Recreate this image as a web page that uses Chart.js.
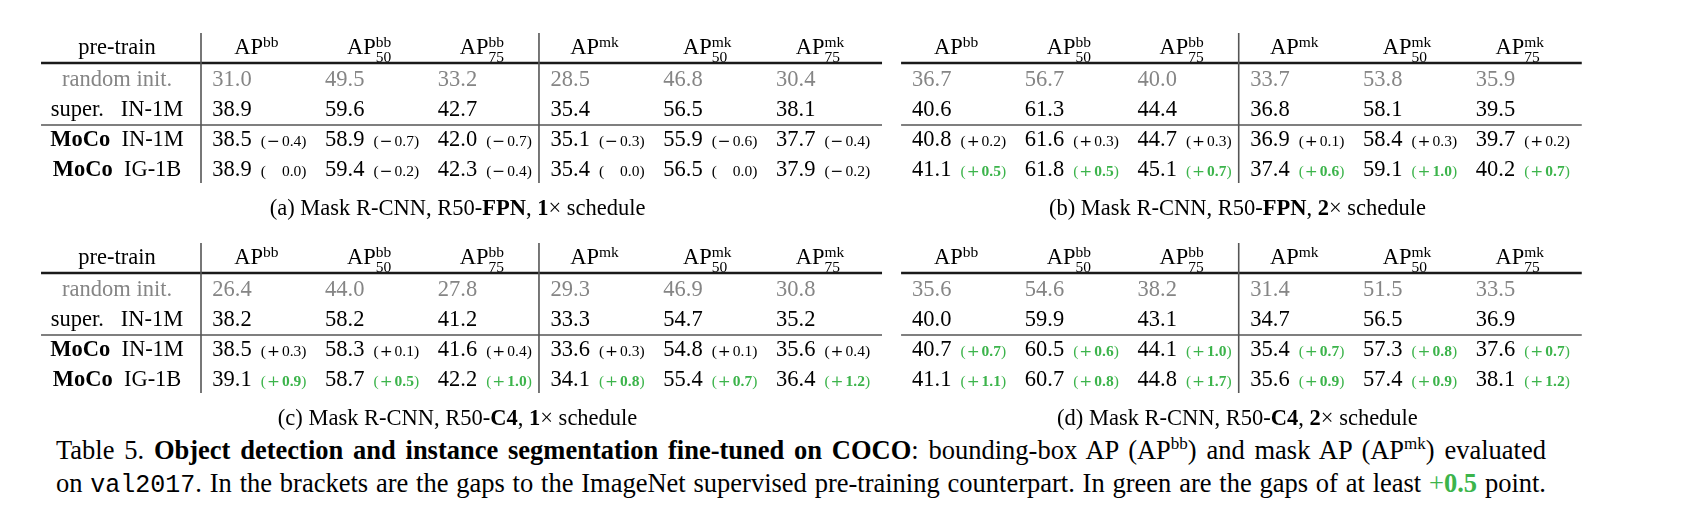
<!DOCTYPE html>
<html>
<head>
<meta charset="utf-8">
<title>Table 5</title>
<script src="https://cdn.jsdelivr.net/npm/chart.js@4.4.1/dist/chart.umd.min.js"></script>
<style>
  body { margin: 0; background: #fff; width: 1691px; height: 516px; overflow: hidden; position: relative; }
  #table5 { position: absolute; left: 0; top: 0; }
  .cap { position: absolute; left: 56px; font: 26.5px "Liberation Serif", "Times New Roman", serif; color: #000; white-space: nowrap; line-height: 30px; }
  .cap sup { font-size: 17px; line-height: 0; vertical-align: 10px; }
  .cap code { font-family: "Liberation Mono", monospace; font-size: 25px; }
  .green { color: #3cb44b; }
</style>
</head>
<body>
<canvas id="table5" width="1691" height="430"></canvas>
<div class="cap" id="line1" style="top:435px">Table 5. <b>Object detection and instance segmentation fine-tuned on COCO</b>: bounding-box AP (AP<sup>bb</sup>) and mask AP (AP<sup>mk</sup>) evaluated</div>
<div class="cap" id="line2" style="top:468px">on <code>val2017</code>. In the brackets are the gaps to the ImageNet supervised pre-training counterpart. In green are the gaps of at least <span class="green">+<b>0.5</b></span> point.</div>
<script>
// column headers: [superscript, subscript]
const headers = [['bb', ''], ['bb', '50'], ['bb', '75'], ['mk', ''], ['mk', '50'], ['mk', '75']];
// pre-train rows: [first part, second part, first part bold]
const preTrain = [['random init.', '', false], ['super.', 'IN-1M', false], ['MoCo', 'IN-1M', true], ['MoCo', 'IG-1B', true]];

// (a) Mask R-CNN, R50-FPN, 1x
const fpn1xAP = [
    [31.0, 49.5, 33.2, 28.5, 46.8, 30.4],
    [38.9, 59.6, 42.7, 35.4, 56.5, 38.1],
    [38.5, 58.9, 42.0, 35.1, 55.9, 37.7],
    [38.9, 59.4, 42.3, 35.4, 56.5, 37.9]
];
const fpn1xGap = [null, null,
    [-0.4, -0.7, -0.7, -0.3, -0.6, -0.4],
    [0.0, -0.2, -0.4, 0.0, 0.0, -0.2]
];

// (b) Mask R-CNN, R50-FPN, 2x
const fpn2xAP = [
    [36.7, 56.7, 40.0, 33.7, 53.8, 35.9],
    [40.6, 61.3, 44.4, 36.8, 58.1, 39.5],
    [40.8, 61.6, 44.7, 36.9, 58.4, 39.7],
    [41.1, 61.8, 45.1, 37.4, 59.1, 40.2]
];
const fpn2xGap = [null, null,
    [0.2, 0.3, 0.3, 0.1, 0.3, 0.2],
    [0.5, 0.5, 0.7, 0.6, 1.0, 0.7]
];

// (c) Mask R-CNN, R50-C4, 1x
const c41xAP = [
    [26.4, 44.0, 27.8, 29.3, 46.9, 30.8],
    [38.2, 58.2, 41.2, 33.3, 54.7, 35.2],
    [38.5, 58.3, 41.6, 33.6, 54.8, 35.6],
    [39.1, 58.7, 42.2, 34.1, 55.4, 36.4]
];
const c41xGap = [null, null,
    [0.3, 0.1, 0.4, 0.3, 0.1, 0.4],
    [0.9, 0.5, 1.0, 0.8, 0.7, 1.2]
];

// (d) Mask R-CNN, R50-C4, 2x
const c42xAP = [
    [35.6, 54.6, 38.2, 31.4, 51.5, 33.5],
    [40.0, 59.9, 43.1, 34.7, 56.5, 36.9],
    [40.7, 60.5, 44.1, 35.4, 57.3, 37.6],
    [41.1, 60.7, 44.8, 35.6, 57.4, 38.1]
];
const c42xGap = [null, null,
    [0.7, 0.6, 1.0, 0.7, 0.8, 0.7],
    [1.1, 0.8, 1.7, 0.9, 0.9, 1.2]
];

const greenFrom = 0.5;

const tables = [
    { ap: fpn1xAP, gap: fpn1xGap, side: 0, block: 0, caption: [['(a) Mask R-CNN, R50-', false], ['FPN', true], [', ', false], ['1', true], ['\u00d7 schedule', false]] },
    { ap: fpn2xAP, gap: fpn2xGap, side: 1, block: 0, caption: [['(b) Mask R-CNN, R50-', false], ['FPN', true], [', ', false], ['2', true], ['\u00d7 schedule', false]] },
    { ap: c41xAP, gap: c41xGap, side: 0, block: 1, caption: [['(c) Mask R-CNN, R50-', false], ['C4', true], [', ', false], ['1', true], ['\u00d7 schedule', false]] },
    { ap: c42xAP, gap: c42xGap, side: 1, block: 1, caption: [['(d) Mask R-CNN, R50-', false], ['C4', true], [', ', false], ['2', true], ['\u00d7 schedule', false]] }
];

// layout in scale units (x: one column slot, y: one table row)
const cols = [headers.map((h, i) => 1.274 + i), headers.map((h, i) => 7.481 + i)];
const preTrainX = 0.038;
const blockStep = 7;

const SERIF = '"Liberation Serif", "Times New Roman", serif';
const BLACK = '#000';
const GRAY = '#858585';
const GREEN = '#3cb44b';
const BIG = 22.5, SMALL = 15.5;
const font = (size, bold, fam) => (bold ? 'bold ' : '') + size + 'px ' + (fam || SERIF);

function runsWidth(ctx, runs) {
    return runs.reduce((w, r) => { ctx.font = r.f; return w + ctx.measureText(r.t).width; }, 0);
}
function drawRuns(ctx, runs, x, y) {
    runs.forEach(r => {
        ctx.font = r.f;
        ctx.fillStyle = r.c || BLACK;
        ctx.fillText(r.t, x, y);
        x += ctx.measureText(r.t).width;
    });
}
function drawGap(ctx, g, x, y) {
    const col = g >= greenFrom ? GREEN : BLACK;
    ctx.fillStyle = col;
    ctx.font = font(SMALL);
    ctx.fillText('(', x, y);
    x += ctx.measureText('(').width;
    ctx.font = font(SMALL, false, '"DejaVu Serif", serif');
    const slot = ctx.measureText('\u2212').width + 3;
    if (g !== 0) ctx.fillText(g < 0 ? '\u2212' : '+', x + 1, y);
    x += slot;
    ctx.font = font(SMALL, g >= greenFrom);
    const num = Math.abs(g).toFixed(1);
    ctx.fillText(num, x, y);
    x += ctx.measureText(num).width;
    ctx.font = font(SMALL);
    ctx.fillText(')', x, y);
}
function hline(ctx, x0, x1, y, w, c) {
    ctx.beginPath(); ctx.lineWidth = w; ctx.strokeStyle = c;
    ctx.moveTo(x0, y); ctx.lineTo(x1, y); ctx.stroke();
}
function vline(ctx, x, y0, y1, w, c) {
    ctx.beginPath(); ctx.lineWidth = w; ctx.strokeStyle = c;
    ctx.moveTo(x, y0); ctx.lineTo(x, y1); ctx.stroke();
}

const tablePlugin = {
    id: 'tableText',
    beforeDatasetsDraw(chart) {
        const ctx = chart.ctx, xs = chart.scales.x, ys = chart.scales.y;
        ctx.save();
        tables.forEach(t => {
            const c = cols[t.side], o = t.block * blockStep;
            const left = xs.getPixelForValue(t.side === 0 ? -0.636 : c[0] - 0.488);
            const right = xs.getPixelForValue(c[5] + 0.55);
            hline(ctx, left, right, ys.getPixelForValue(0.233 + o), 2.6, '#1a1a1a');
            hline(ctx, left, right, ys.getPixelForValue(2.3 + o), 1.3, '#555');
            const top = ys.getPixelForValue(-0.767 + o), bottom = ys.getPixelForValue(4.233 + o);
            vline(ctx, xs.getPixelForValue(c[2] + 0.507), top, bottom, 1.6, '#555');
            if (t.side === 0) vline(ctx, xs.getPixelForValue(c[0] - 0.491), top, bottom, 1.6, '#555');
        });
        ctx.restore();
    },
    afterDatasetsDraw(chart) {
        const ctx = chart.ctx, xs = chart.scales.x, ys = chart.scales.y;
        ctx.save();
        ctx.textAlign = 'left';
        ctx.textBaseline = 'alphabetic';
        tables.forEach(t => {
            const c = cols[t.side], o = t.block * blockStep;
            const hy = ys.getPixelForValue(-0.067 + o);
            // column headers
            headers.forEach((h, i) => {
                ctx.font = font(BIG);
                const wAP = ctx.measureText('AP').width;
                ctx.font = font(SMALL);
                const wS = Math.max(ctx.measureText(h[0]).width, ctx.measureText(h[1]).width);
                let x = xs.getPixelForValue(c[i]) - (wAP + wS) / 2;
                ctx.fillStyle = BLACK;
                ctx.font = font(BIG);
                ctx.fillText('AP', x, hy);
                x += wAP;
                ctx.font = font(SMALL);
                ctx.fillText(h[0], x, hy - 7);
                if (h[1]) ctx.fillText(h[1], x, hy + 8);
            });
            // pre-train column
            if (t.side === 0) {
                const px = xs.getPixelForValue(preTrainX);
                ctx.font = font(BIG);
                ctx.fillStyle = BLACK;
                ctx.fillText('pre-train', px - ctx.measureText('pre-train').width / 2, hy);
                preTrain.forEach((p, r) => {
                    const runs = [{ t: p[0], f: font(BIG, p[2]), c: r === 0 ? GRAY : BLACK }];
                    if (p[1]) runs.push({ t: p[2] ? '  ' : '\u2002 ', f: font(BIG) }, { t: p[1], f: font(BIG) });
                    drawRuns(ctx, runs, px - runsWidth(ctx, runs) / 2, ys.getPixelForValue(r + 1 + o));
                });
            }
            // sub-caption
            const capRuns = t.caption.map(p => ({ t: p[0], f: font(BIG, p[1]) }));
            const l = t.side === 0 ? -0.636 : c[0] - 0.488;
            const cx = xs.getPixelForValue((l + c[5] + 0.55) / 2 - 0.035);
            drawRuns(ctx, capRuns, cx - runsWidth(ctx, capRuns) / 2, ys.getPixelForValue(5.3 + o));
        });
        // table cells, placed at each point element
        chart.data.datasets.forEach((ds, di) => {
            chart.getDatasetMeta(di).data.forEach((pt, k) => {
                const d = ds.data[k];
                const x = pt.x - 44;
                const txt = d.v.toFixed(1);
                ctx.font = font(BIG);
                ctx.fillStyle = d.r === 0 ? GRAY : BLACK;
                ctx.fillText(txt, x, pt.y);
                if (d.g !== null) drawGap(ctx, d.g, x + ctx.measureText(txt).width + 9, pt.y);
            });
        });
        ctx.restore();
    }
};

const chart = new Chart(document.getElementById('table5').getContext('2d'), {
    type: 'scatter',
    data: {
        datasets: tables.map((t, ti) => ({
            label: 'table ' + ti,
            data: t.ap.flatMap((row, r) => row.map((v, i) => ({
                x: cols[t.side][i],
                y: r + 1 + t.block * blockStep,
                v: v,
                g: t.gap[r] ? t.gap[r][i] : null,
                r: r
            }))),
            pointRadius: 0,
            pointHoverRadius: 0
        }))
    },
    options: {
        responsive: false,
        animation: false,
        events: [],
        layout: { padding: 0 },
        plugins: { legend: { display: false }, tooltip: { enabled: false } },
        scales: {
            x: { type: 'linear', min: -1, max: 14, display: false },
            y: { type: 'linear', min: 1 - 86 / 30, max: 1 - 86 / 30 + 430 / 30, reverse: true, display: false }
        }
    },
    plugins: [tablePlugin]
});

// stretch the two caption lines to the same measure, like justified text
document.querySelectorAll('.cap').forEach(el => {
    const spaces = (el.textContent.match(/ /g) || []).length;
    const extra = (1490 - el.getBoundingClientRect().width) / spaces;
    el.style.wordSpacing = extra + 'px';
});
</script>
</body>
</html>
